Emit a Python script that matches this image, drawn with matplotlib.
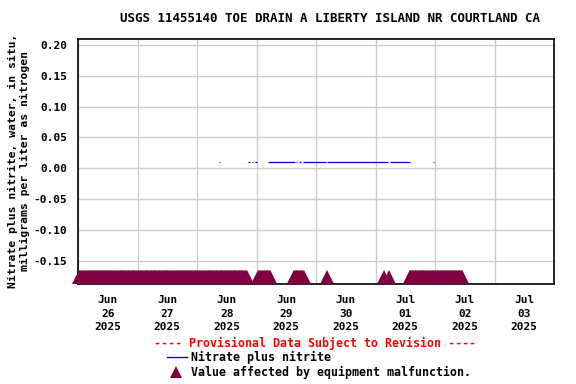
import matplotlib
matplotlib.use("Agg")
from matplotlib import pyplot as plt
from matplotlib.lines import Line2D
import matplotlib.dates as mdates
import pandas as pd

# nitrate plus nitrite readings (mg/L), recorded stretches as start/end
line_starts = ['2025-06-28 09:00', '2025-06-28 20:40', '2025-06-28 22:15',
               '2025-06-28 23:25', '2025-06-29 01:20', '2025-06-29 04:45',
               '2025-06-29 15:55', '2025-06-29 17:15', '2025-06-29 18:35',
               '2025-06-30 04:35', '2025-07-01 05:50', '2025-07-01 23:15']
line_ends = ['2025-06-28 09:10', '2025-06-28 21:25', '2025-06-28 22:25',
             '2025-06-29 00:05', '2025-06-29 01:30', '2025-06-29 15:30',
             '2025-06-29 16:30', '2025-06-29 17:50', '2025-06-30 04:00',
             '2025-07-01 05:10', '2025-07-01 13:55', '2025-07-01 23:25']
line_value = 0.011

# equipment malfunction flags (runs of 15-minute samples)
flag_starts = ['2025-06-26 00:30', '2025-06-29 00:45', '2025-06-29 15:00',
               '2025-06-30 04:15', '2025-07-01 03:25', '2025-07-01 05:35',
               '2025-07-01 13:45']
flag_ends = ['2025-06-28 20:00', '2025-06-29 05:40', '2025-06-29 19:00',
             '2025-06-30 04:15', '2025-07-01 03:25', '2025-07-01 05:35',
             '2025-07-02 11:05']
flag_value = -0.176

yticks = [-0.15, -0.10, -0.05, 0.00, 0.05, 0.10, 0.15, 0.20]

mono = 'DejaVu Sans Mono'
blue = '#0000dd'
maroon = '#7f0040'

fig = plt.figure(figsize=(5.76, 3.84), dpi=100)
ax = fig.add_axes([78/576, 1 - 284/384, 476/576, 245/384])

for s, e in zip(line_starts, line_ends):
    ax.plot([pd.Timestamp(s), pd.Timestamp(e)], [line_value, line_value],
            color=blue, lw=0.9, solid_capstyle='butt')

for s, e in zip(flag_starts, flag_ends):
    t = pd.date_range(s, e, freq='15min')
    ax.plot(t, [flag_value] * len(t), ls='none', marker='^', ms=9.4,
            color=maroon, mew=0, clip_on=False, zorder=3)

ax.set_xlim(pd.Timestamp('2025-06-26'), pd.Timestamp('2025-07-04'))
ax.set_ylim(-0.1877, 0.2097)
ax.set_yticks(yticks)
ax.yaxis.set_major_formatter(plt.FuncFormatter(lambda v, p: '%.2f' % v))

# gridlines at midnight, date labels centred at noon
ax.xaxis.set_major_locator(mdates.DayLocator())
ax.xaxis.set_major_formatter(plt.NullFormatter())
ax.xaxis.set_minor_locator(mdates.HourLocator(byhour=[12]))
ax.xaxis.set_minor_formatter(mdates.DateFormatter('%b\n%d\n%Y'))

ax.grid(True, which='major', color='#cccccc', lw=1)
ax.set_axisbelow(True)
ax.tick_params(which='both', length=0)
ax.tick_params(axis='y', pad=8, labelsize=8)
ax.tick_params(axis='x', which='minor', pad=8, labelsize=8)
for lab in ax.get_yticklabels() + ax.get_xticklabels(minor=True):
    lab.set_fontfamily(mono)
    lab.set_fontweight('bold')
for lab in ax.get_xticklabels(minor=True):
    lab.set_linespacing(1.45)
for sp in ax.spines.values():
    sp.set_color('black')
    sp.set_linewidth(1.2)

fig.text(330/576, 1 - 19/384, 'USGS 11455140 TOE DRAIN A LIBERTY ISLAND NR COURTLAND CA',
         ha='center', va='center', fontsize=9, fontfamily=mono, fontweight='bold')
fig.text(19/576, 1 - 161/384,
         'Nitrate plus nitrite, water, in situ,\nmilligrams per liter as nitrogen',
         rotation=90, ha='center', va='center', multialignment='center',
         fontsize=8.2, fontfamily=mono, fontweight='bold', linespacing=1.35)

fig.text(315/576, 1 - 343/384, '---- Provisional Data Subject to Revision ----',
         ha='center', va='center', fontsize=8.4, fontfamily=mono, fontweight='bold',
         color='red')
fig.add_artist(Line2D([167/576, 187/576], [1 - 357/384, 1 - 357/384],
                      color=blue, lw=1, transform=fig.transFigure))
fig.text(191/576, 1 - 357/384, 'Nitrate plus nitrite', ha='left', va='center',
         fontsize=8.4, fontfamily=mono, fontweight='bold')
fig.add_artist(Line2D([176/576], [1 - 372/384], marker='^', ms=9, color=maroon,
                      mew=0, transform=fig.transFigure))
fig.text(191/576, 1 - 372/384, 'Value affected by equipment malfunction.',
         ha='left', va='center', fontsize=8.4, fontfamily=mono, fontweight='bold')

fig.savefig('out.png', dpi=100)
